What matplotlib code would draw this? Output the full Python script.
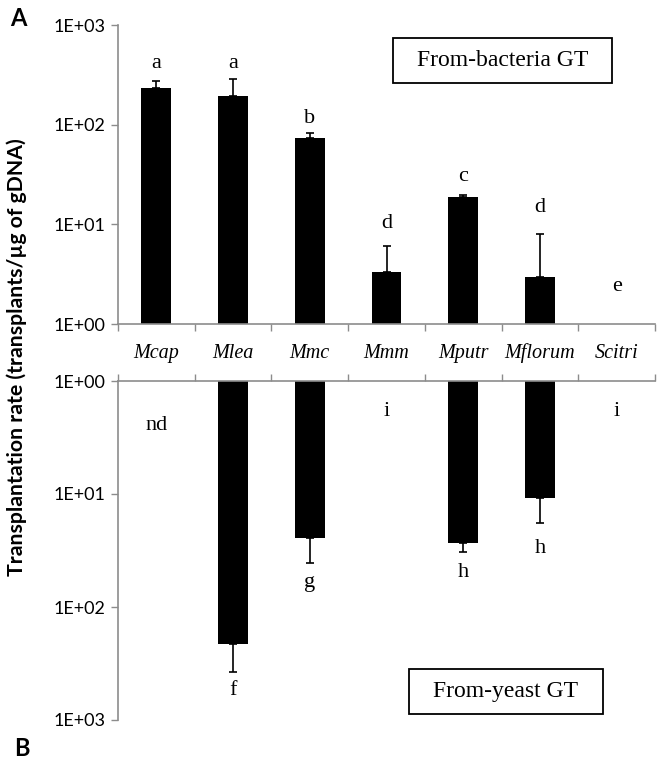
import matplotlib
matplotlib.use("Agg")
import matplotlib.pyplot as plt
import matplotlib.transforms as mtransforms
from matplotlib.patches import Rectangle
from matplotlib.ticker import FixedLocator, FuncFormatter
import numpy as np

# data
strains = ["Mcap", "Mlea", "Mmc", "Mmm", "Mputr", "Mflorum", "Scitri"]

bact_vals = [232, 193, 73, 3.34, 18.6, 2.97, np.nan]
bact_err_top = [274, 286, 82, 6.1, 19.9, 8.06, np.nan]
bact_letters = ["a", "a", "b", "d", "c", "d", "e"]
bact_letter_y = [415, 415, 116, 10.2, 30, 14.7, 2.4]

yeast_vals = [np.nan, 213, 24.6, np.nan, 26.9, 10.9, np.nan]
yeast_err_top = [np.nan, 379, 41, np.nan, 32.6, 17.9, np.nan]
yeast_letters = ["nd", "f", "g", "i", "h", "h", "i"]
yeast_letter_y = [2.5, 545, 61, 1.86, 50, 30.5, 1.86]

GRAY = "#8c8c8c"
SERIF = "Liberation Serif"
SANS = "Lato"

W, H = 661, 765
fig = plt.figure(figsize=(W / 100, H / 100), dpi=100)

left = 118 / W
right = 655 / W
ax_top = fig.add_axes([left, 1 - 324 / H, right - left, (324 - 25) / H])
ax_bot = fig.add_axes([left, 1 - 720 / H, right - left, (720 - 381) / H])

x = np.arange(len(strains))
bar_w = 0.39


def fmt(v, pos):
    return "1E+%02d" % int(round(np.log10(v)))


def draw(ax, vals, errs, letters, ly, inverted):
    v = np.array(vals, dtype=float)
    e = np.array(errs, dtype=float)
    mask = ~np.isnan(v)
    ax.bar(x[mask], v[mask] - 1, bottom=1, width=bar_w, color="black", zorder=2)
    ax.errorbar(x[mask], v[mask], yerr=[np.zeros(mask.sum()), e[mask] - v[mask]],
                fmt="none", ecolor="black", elinewidth=1.2, capsize=3, capthick=1.2, zorder=3)
    for i, (t, yy) in enumerate(zip(letters, ly)):
        ax.text(i, yy, t, ha="center", va="center", fontsize=16, family=SERIF)

    ax.set_yscale("log")
    if inverted:
        ax.set_ylim(1000, 1)
    else:
        ax.set_ylim(1, 1000)
    ax.set_xlim(-0.5, len(strains) - 0.5)
    ax.yaxis.set_major_locator(FixedLocator([1, 10, 100, 1000]))
    ax.yaxis.set_minor_locator(FixedLocator([]))
    ax.yaxis.set_major_formatter(FuncFormatter(fmt))
    ax.set_xticks(np.arange(-0.5, len(strains), 1.0))
    ax.set_xticklabels([])
    for lab in ax.get_yticklabels():
        lab.set_family(SANS)
        lab.set_fontsize(13)
    ax.tick_params(axis="y", direction="out", length=5, width=1, color=GRAY, pad=4)
    ax.tick_params(axis="x", direction="out", length=5, width=1, color=GRAY)
    for s in ["left", "right", "top", "bottom"]:
        ax.spines[s].set_color(GRAY)
        ax.spines[s].set_linewidth(1.2)
    ax.spines["right"].set_visible(False)
    if inverted:
        ax.spines["bottom"].set_visible(False)
        ax.xaxis.set_ticks_position("top")
    else:
        ax.spines["top"].set_visible(False)
        ax.xaxis.set_ticks_position("bottom")


draw(ax_top, bact_vals, bact_err_top, bact_letters, bact_letter_y, False)
draw(ax_bot, yeast_vals, yeast_err_top, yeast_letters, yeast_letter_y, True)

# category names in the band between the panels
trans = mtransforms.blended_transform_factory(ax_top.transData, ax_top.transAxes)
for i, name in enumerate(strains):
    ax_top.text(i, -29 / 299, name, transform=trans, ha="center", va="center",
                fontsize=14.5, family=SERIF, style="italic")


# boxed panel titles (pixel boxes as in the reference)
def boxed(text, x0, y0, x1, y1):
    fig.add_artist(Rectangle((x0 / W, 1 - y1 / H), (x1 - x0) / W, (y1 - y0) / H,
                             transform=fig.transFigure, fill=False, ec="black", lw=1.3))
    fig.text((x0 + x1) / 2 / W, 1 - (y0 + y1) / 2 / H, text, ha="center", va="center",
             fontsize=17, family=SERIF)


boxed("From-bacteria GT", 393, 38, 612, 83)
boxed("From-yeast GT", 409, 669, 603, 714)

fig.text(17 / W, 1 - 357 / H, "Transplantation rate (transplants/\u00b5g of gDNA)", rotation=90,
         ha="center", va="center", fontsize=15.3, fontweight="bold", family=SANS)
fig.text(18 / W, 1 - 18 / H, "A", ha="center", va="center", fontsize=17, fontweight="bold", family=SANS)
fig.text(22 / W, 1 - 748 / H, "B", ha="center", va="center", fontsize=17, fontweight="bold", family=SANS)

fig.savefig("out.png", dpi=100)
